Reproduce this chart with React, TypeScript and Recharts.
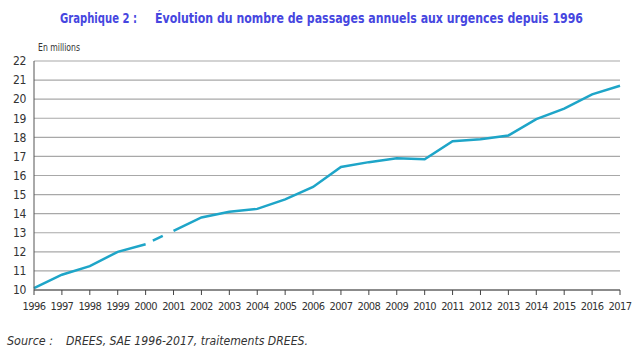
import React from 'react';
import { LineChart, CartesianGrid, XAxis, YAxis, Line } from 'recharts';

const years = [
  '1996', '1997', '1998', '1999', '2000', '2001', '2002', '2003', '2004', '2005', '2006',
  '2007', '2008', '2009', '2010', '2011', '2012', '2013', '2014', '2015', '2016', '2017',
];

// nombre de passages, en millions
const passages = [
  10.1, 10.8, 11.25, 12.0, 12.4, 13.1, 13.8, 14.1, 14.25, 14.75, 15.4,
  16.45, 16.7, 16.9, 16.85, 17.8, 17.9, 18.1, 18.95, 19.5, 20.25, 20.7,
];

const yTicks = [10, 11, 12, 13, 14, 15, 16, 17, 18, 19, 20, 21, 22];

// 2000 -> 2001 is drawn dashed in the original
const breakStart = years.indexOf('2000');
const breakEnd = years.indexOf('2001');

const data = years.map((year, i) => ({
  year,
  before: i <= breakStart ? passages[i] : null,
  gap: i >= breakStart && i <= breakEnd ? passages[i] : null,
  after: i >= breakEnd ? passages[i] : null,
}));

const font = '"DejaVu Sans Condensed", "Liberation Sans", sans-serif';
const lineColor = '#1ea5c8';
const titleColor = '#4646e0';

const App: React.FC = () => {
  return (
    <div style={{ position: 'absolute', left: 0, top: 0, width: 636, height: 356, background: '#fff', fontFamily: font }}>
      <LineChart width={636} height={356} data={data} margin={{ top: 61, right: 16, left: 8, bottom: 46 }}>
        <CartesianGrid horizontal vertical={false} stroke="#a8a8a8" strokeWidth={1.2} />
        <XAxis
          dataKey="year"
          interval={0}
          stroke="#444"
          tickSize={5}
          tickMargin={7}
          height={20}
          tick={{ fill: '#333', fontSize: 11, fontFamily: font, letterSpacing: -0.6 }}
        />
        <YAxis
          domain={[10, 22]}
          ticks={yTicks}
          interval={0}
          width={26}
          stroke="#555"
          tickLine={false}
          tick={{ fill: '#333', fontSize: 12, fontFamily: font, letterSpacing: -0.4 }}
        />
        <Line dataKey="before" stroke={lineColor} strokeWidth={2.5} dot={false} isAnimationActive={false} />
        <Line dataKey="gap" stroke={lineColor} strokeWidth={2.5} strokeDasharray="0 8 11 30" dot={false} isAnimationActive={false} />
        <Line dataKey="after" stroke={lineColor} strokeWidth={2.5} dot={false} isAnimationActive={false} />
      </LineChart>
      <svg width={636} height={356} style={{ position: 'absolute', left: 0, top: 0, pointerEvents: 'none' }}>
        <g fontFamily={font} fill={titleColor} fontWeight="bold" fontSize={14}>
          <text x={60} y={23} textLength={77} lengthAdjust="spacingAndGlyphs">Graphique 2 :</text>
          <text x={155} y={23} textLength={428} lengthAdjust="spacingAndGlyphs">
            Évolution du nombre de passages annuels aux urgences depuis 1996
          </text>
        </g>
        <text x={38} y={51} fontFamily={font} fontSize={11} fill="#333" textLength={42} lengthAdjust="spacingAndGlyphs">
          En millions
        </text>
        <g fontFamily={font} fill="#333" fontStyle="italic" fontSize={13}>
          <text x={7} y={345} textLength={46} lengthAdjust="spacingAndGlyphs">Source :</text>
          <text x={66} y={345} textLength={242} lengthAdjust="spacingAndGlyphs">DREES, SAE 1996-2017, traitements DREES.</text>
        </g>
      </svg>
    </div>
  );
};

export default App;
